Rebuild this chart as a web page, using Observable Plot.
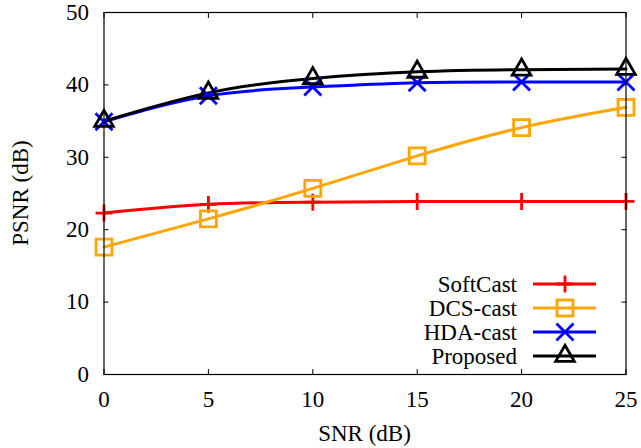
<!DOCTYPE html>
<html><head><meta charset="utf-8">
<script src="https://cdn.jsdelivr.net/npm/d3@7"></script>
<script src="https://cdn.jsdelivr.net/npm/@observablehq/plot@0.6"></script>
<style>
html,body{margin:0;padding:0;background:#fff;}
svg{display:block;}
#xtitle{width:641px;height:28px;line-height:28px;text-align:center;font-family:"Liberation Serif","Times New Roman",serif;font-size:23px;color:#000;padding-left:88px;box-sizing:border-box;}
</style></head>
<body><div id="chart"></div><div id="xtitle">SNR (dB)</div>
<script>
const snr = [0, 5, 10, 15, 20, 25];
const softcast = [22.3, 23.5, 23.8, 23.9, 23.9, 23.9];
const dcscast = [17.6, 21.5, 25.7, 30.2, 34.1, 36.9];
const hdacast = [34.9, 38.5, 39.7, 40.3, 40.4, 40.4];
const proposed = [35.0, 38.9, 40.9, 41.8, 42.1, 42.2];
const seriesNames = ["SoftCast", "DCS-cast", "HDA-cast", "Proposed"];
const seriesColors = ["#ff0000", "#ffa500", "#0000ff", "#000000"];
const seriesSymbols = ["plus", "square", "times", "triangle"];
const seriesR = [5.5, 9, 7.8, 6.9];
const xTicks = [0, 5, 10, 15, 20, 25];
const yTicks = [0, 10, 20, 30, 40, 50];

const seriesValues = [softcast, dcscast, hdacast, proposed];
const rows = [];
seriesNames.forEach((name, i) => {
  snr.forEach((s, j) => rows.push({series: name, snr: s, psnr: seriesValues[i][j]}));
});

const font = "'Liberation Serif', 'Times New Roman', serif";
const W = 641, H = 420;
const mL = 103.5, mR = 15.5, mT = 12, mB = 46;

const marks = [];
seriesNames.forEach((name, i) => {
  marks.push(Plot.line(rows.filter(d => d.series === name), {
    x: "snr", y: "psnr", stroke: seriesColors[i], strokeWidth: 3, curve: "natural"
  }));
});
seriesNames.forEach((name, i) => {
  marks.push(Plot.dot(rows.filter(d => d.series === name), {
    x: "snr", y: "psnr", stroke: seriesColors[i], fill: "none", strokeWidth: 2.8,
    symbol: () => seriesSymbols[i], r: seriesR[i]
  }));
});

const chart = Plot.plot({
  width: W, height: H,
  marginLeft: mL, marginRight: mR, marginTop: mT, marginBottom: mB,
  style: {fontFamily: font, fontSize: "23px"},
  x: {domain: [0, 25]},
  y: {domain: [0, 50]},
  symbol: {type: "identity"},
  marks: [
    Plot.axisX(xTicks, {anchor: "bottom", tickSize: -5, tickFormat: () => "", label: null}),
    Plot.axisX(xTicks, {anchor: "top", tickSize: -5, tickFormat: () => "", label: null}),
    Plot.axisY(yTicks, {anchor: "left", tickSize: -5, tickFormat: () => "", label: null}),
    Plot.axisY(yTicks, {anchor: "right", tickSize: -5, tickFormat: () => "", label: null}),
    Plot.axisX(xTicks, {anchor: "bottom", tickSize: 0, tickPadding: 16, label: null}),
    Plot.axisY(yTicks, {anchor: "left", tickSize: 0, tickPadding: 15, label: null}),
    ...marks,
    Plot.frame({stroke: "#000", strokeWidth: 1.2})
  ]
});

const svg = d3.select(chart);
svg.attr("font-family", font).attr("font-size", 23);
svg.append("text").attr("transform", `translate(20,${mT + (H - mT - mB) / 2}) rotate(-90)`)
  .attr("dy", "0.35em").attr("text-anchor", "middle").text("PSNR (dB)");

const lg = svg.append("g");
const symMap = {plus: d3.symbolPlus, square: d3.symbolSquare, times: d3.symbolTimes, triangle: d3.symbolTriangle};
seriesNames.forEach((name, i) => {
  const y = 284 + i * 24;
  lg.append("text").attr("x", 517).attr("y", y).attr("dy", "0.35em").attr("text-anchor", "end").text(name);
  lg.append("line").attr("x1", 533).attr("x2", 596).attr("y1", y).attr("y2", y)
    .attr("stroke", seriesColors[i]).attr("stroke-width", 3);
  const r = seriesR[i];
  lg.append("path").attr("transform", `translate(565,${y})`)
    .attr("d", d3.symbol(symMap[seriesSymbols[i]], Math.PI * r * r)())
    .attr("fill", "none").attr("stroke", seriesColors[i]).attr("stroke-width", 2.8);
});
svg.selectAll("text").attr("font-family", font);

document.getElementById("chart").appendChild(chart);
</script></body></html>
